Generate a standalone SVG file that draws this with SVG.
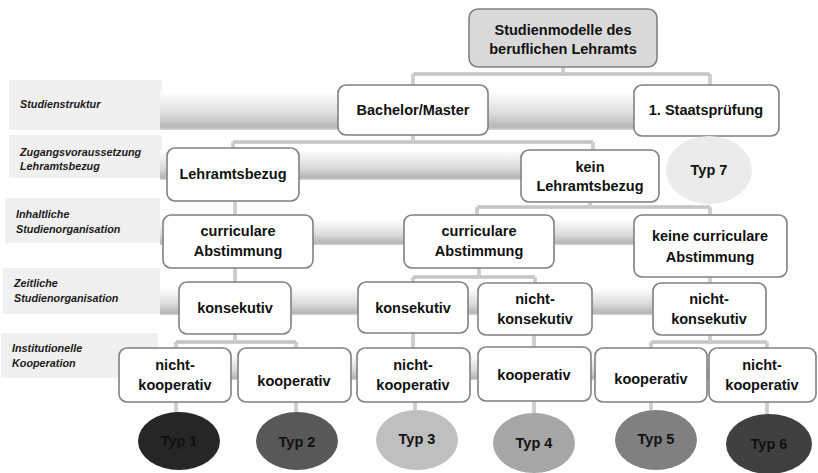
<svg xmlns="http://www.w3.org/2000/svg" xmlns:xlink="http://www.w3.org/1999/xlink" width="818" height="473" viewBox="0 0 818 473">
<style>
.lbl{fill:#f0f0f0}
.lt{font-family:"Liberation Sans",Arial,sans-serif;font-size:10.8px;font-weight:bold;font-style:italic;fill:#1a1a1a}
.band{fill:url(#bandGrad)}
.box{fill:#ffffff;stroke:#808080;stroke-width:1.6}
.top{fill:#d9d9d9;stroke:#808080;stroke-width:1.6}
.t{font-family:"Liberation Sans",Arial,sans-serif;font-size:14.5px;font-weight:bold;fill:#111;text-anchor:middle}
.co{fill:none;stroke:#a6a6a6;stroke-width:3}
.ci{fill:none;stroke:#e6e6e6;stroke-width:1.2}
.ell{filter:url(#soft)}
</style>
<defs>
<linearGradient id="bandGrad" x1="0" y1="0" x2="0" y2="1">
<stop offset="0" stop-color="#ffffff"/>
<stop offset="0.6" stop-color="#dadada"/>
<stop offset="0.92" stop-color="#b5b5b5"/>
<stop offset="1" stop-color="#d8d8d8"/>
</linearGradient>
<filter id="soft" x="-10%" y="-10%" width="120%" height="120%">
<feGaussianBlur stdDeviation="0.5"/>
</filter>
<path id="cpath" d="M563,67 V74 M413,74 H710 M413,74 V85 M710,74 V85 M413,135 V142 M233,142 H593 M233,142 V148 M593,142 V150 M235,201 V215 M590,202 V207 M477,207 H710 M477,207 V215 M710,207 V215 M235,268 V282 M479,268 V277 M413,277 H535 M413,277 V282 M535,277 V283 M710,277 V283 M235,334 V342 M176,342 H296 M176,342 V348 M296,342 V348 M413,333 V348 M534,335 V347 M710,335 V342 M651,342 H767 M651,342 V348 M767,342 V348 M176,402 V413 M296,402 V412 M415,402 V410 M534,401 V413 M651,402 V410 M767,402 V414"/>
</defs>
<rect width="818" height="473" fill="#ffffff"/>

<g id="rows">
<rect class="lbl" x="9" y="80" width="153" height="50"/>
<rect class="band" x="160" y="92" width="480" height="38"/>
<text class="lt" x="20" y="108">Studienstruktur</text>

<rect class="lbl" x="9" y="135" width="153" height="43"/>
<rect class="band" x="160" y="150" width="365" height="30"/>
<text class="lt" x="20" y="156">Zugangsvoraussetzung</text>
<text class="lt" x="20" y="170">Lehramtsbezug</text>

<rect class="lbl" x="5" y="198" width="155" height="45"/>
<rect class="band" x="160" y="220" width="480" height="25"/>
<text class="lt" x="16" y="218">Inhaltliche</text>
<text class="lt" x="16" y="233">Studienorganisation</text>

<rect class="lbl" x="3" y="268" width="157" height="46"/>
<rect class="band" x="160" y="288" width="500" height="27"/>
<text class="lt" x="14" y="287">Zeitliche</text>
<text class="lt" x="14" y="302">Studienorganisation</text>

<rect class="lbl" x="1" y="333" width="157" height="45"/>
<rect class="band" x="158" y="355" width="557" height="25"/>
<text class="lt" x="12" y="352">Institutionelle</text>
<text class="lt" x="12" y="367">Kooperation</text>
</g>

<g id="connectors">
<use xlink:href="#cpath" href="#cpath" class="co"/>
<use xlink:href="#cpath" href="#cpath" class="ci"/>
</g>

<g id="n-root"><rect class="top" x="469" y="9" width="188" height="58" rx="9"/><text class="t" x="563" y="35">Studienmodelle des</text><text class="t" x="563" y="54">beruflichen Lehramts</text></g>
<g id="n-bm"><rect class="box" x="338" y="85" width="150" height="50" rx="8"/><text class="t" x="413" y="115">Bachelor/Master</text></g>
<g id="n-sp"><rect class="box" x="634" y="85" width="145" height="51" rx="8"/><text class="t" x="706" y="115">1. Staatsprüfung</text></g>
<g id="n-lb"><rect class="box" x="167" y="148" width="132" height="53" rx="8"/><text class="t" x="233" y="179">Lehramtsbezug</text></g>
<g id="n-klb"><rect class="box" x="521" y="150" width="138" height="52" rx="8"/><text class="t" x="590" y="172">kein</text><text class="t" x="590" y="191">Lehramtsbezug</text></g>
<g id="n-typ7"><ellipse class="ell" cx="709" cy="170" rx="43" ry="34" fill="#ebebeb"/><text class="t" x="709" y="175">Typ 7</text></g>
<g id="n-ca1"><rect class="box" x="163" y="215" width="150" height="53" rx="8"/><text class="t" x="238" y="236">curriculare</text><text class="t" x="238" y="256">Abstimmung</text></g>
<g id="n-ca2"><rect class="box" x="404" y="215" width="150" height="53" rx="8"/><text class="t" x="479" y="236">curriculare</text><text class="t" x="479" y="256">Abstimmung</text></g>
<g id="n-kca"><rect class="box" x="634" y="215" width="153" height="62" rx="8"/><text class="t" x="710" y="241">keine curriculare</text><text class="t" x="710" y="262">Abstimmung</text></g>
<g id="n-k1"><rect class="box" x="179" y="282" width="112" height="52" rx="8"/><text class="t" x="235" y="313">konsekutiv</text></g>
<g id="n-k2"><rect class="box" x="358" y="282" width="110" height="51" rx="8"/><text class="t" x="413" y="313">konsekutiv</text></g>
<g id="n-nk1"><rect class="box" x="478" y="283" width="114" height="52" rx="8"/><text class="t" x="535" y="304">nicht-</text><text class="t" x="535" y="324">konsekutiv</text></g>
<g id="n-nk2"><rect class="box" x="653" y="283" width="113" height="52" rx="8"/><text class="t" x="709" y="304">nicht-</text><text class="t" x="709" y="324">konsekutiv</text></g>
<g id="n-nkoop1"><rect class="box" x="119" y="348" width="112" height="54" rx="8"/><text class="t" x="175" y="370">nicht-</text><text class="t" x="175" y="390">kooperativ</text></g>
<g id="n-koop1"><rect class="box" x="238" y="348" width="113" height="54" rx="8"/><text class="t" x="294" y="386">kooperativ</text></g>
<g id="n-nkoop2"><rect class="box" x="357" y="348" width="113" height="54" rx="8"/><text class="t" x="413" y="370">nicht-</text><text class="t" x="413" y="390">kooperativ</text></g>
<g id="n-koop2"><rect class="box" x="478" y="347" width="113" height="54" rx="8"/><text class="t" x="534" y="380">kooperativ</text></g>
<g id="n-koop3"><rect class="box" x="595" y="348" width="112" height="54" rx="8"/><text class="t" x="651" y="384">kooperativ</text></g>
<g id="n-nkoop3"><rect class="box" x="709" y="348" width="107" height="54" rx="8"/><text class="t" x="762" y="370">nicht-</text><text class="t" x="762" y="390">kooperativ</text></g>

<g id="n-typ1"><ellipse class="ell" cx="179" cy="441" rx="41" ry="29" fill="#262626"/><text class="t" x="179" y="446">Typ 1</text></g>
<g id="n-typ2"><ellipse class="ell" cx="297" cy="441" rx="41" ry="29" fill="#595959"/><text class="t" x="297" y="447">Typ 2</text></g>
<g id="n-typ3"><ellipse class="ell" cx="417" cy="440" rx="41" ry="30" fill="#bfbfbf"/><text class="t" x="417" y="444">Typ 3</text></g>
<g id="n-typ4"><ellipse class="ell" cx="534" cy="443" rx="41" ry="30" fill="#a6a6a6"/><text class="t" x="534" y="448">Typ 4</text></g>
<g id="n-typ5"><ellipse class="ell" cx="656" cy="440" rx="41" ry="30" fill="#808080"/><text class="t" x="656" y="444">Typ 5</text></g>
<g id="n-typ6"><ellipse class="ell" cx="769" cy="444" rx="43" ry="30" fill="#404040"/><text class="t" x="769" y="449">Typ 6</text></g>
</svg>
